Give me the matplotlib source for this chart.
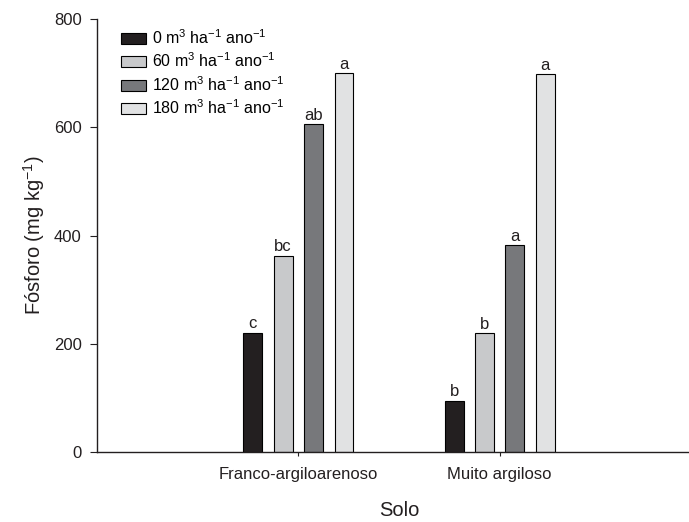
import matplotlib
matplotlib.use("Agg")
import matplotlib.pyplot as plt
from matplotlib.patches import Patch
import numpy as np

plt.rcParams["font.family"] = ["Liberation Sans", "DejaVu Sans"]
plt.rcParams["mathtext.fontset"] = "custom"
plt.rcParams["mathtext.rm"] = "Liberation Sans"
plt.rcParams["mathtext.it"] = "Liberation Sans:italic"
plt.rcParams["mathtext.bf"] = "Liberation Sans:bold"

soils = ["Franco-argiloarenoso", "Muito argiloso"]
doses = ["0 m$^3$ ha$^{-1}$ ano$^{-1}$",
         "60 m$^3$ ha$^{-1}$ ano$^{-1}$",
         "120 m$^3$ ha$^{-1}$ ano$^{-1}$",
         "180 m$^3$ ha$^{-1}$ ano$^{-1}$"]
phosphorus = [
    [220, 94],    # 0
    [362, 219],   # 60
    [606, 382],   # 120
    [700, 698],   # 180
]
letters = [
    ["c", "b"],
    ["bc", "b"],
    ["ab", "a"],
    ["a", "a"],
]
colors = ["#231f20", "#c8c9cb", "#77787b", "#e1e2e3"]
ink = "#231f20"

fig = plt.figure(figsize=(6.89, 5.22), dpi=100)
ax = fig.add_axes([0.1408, 0.1347, 0.8592, 0.8283])

x = np.array([1.0, 2.0])
step = 0.151
width = 0.094
for i, (vals, lab, col) in enumerate(zip(phosphorus, letters, colors)):
    pos = x + (i - 1.5) * step
    ax.bar(pos, vals, width=width, color=col, edgecolor="black", linewidth=0.8)
    for px, v, t in zip(pos, vals, lab):
        ax.text(px, v + 3, t, ha="center", va="bottom", fontsize=12, color=ink)

ax.set_xlim(0, 2.94)
ax.set_ylim(0, 800)
ax.set_yticks([0, 200, 400, 600, 800])
ax.set_xticks(x)
ax.set_xticklabels(soils)
ax.tick_params(axis="y", direction="out", length=5, width=0.8, labelsize=12, pad=6,
               colors=ink)
ax.tick_params(axis="x", direction="out", length=3, width=0.8, labelsize=12, pad=8,
               colors=ink)
for s in ["top", "right"]:
    ax.spines[s].set_visible(False)
for s in ["left", "bottom"]:
    ax.spines[s].set_linewidth(1.0)
    ax.spines[s].set_color(ink)

ax.set_ylabel("Fósforo (mg kg$^{-1}$)", fontsize=14.5, color=ink)
ax.set_xlabel("Solo", fontsize=14.5, color=ink)
ax.yaxis.set_label_coords(-0.085, 0.5)
ax.xaxis.set_label_coords(0.51, -0.115)

handles = [Patch(facecolor=c, edgecolor="black", linewidth=0.8) for c in colors]
ax.legend(handles, doses, loc="upper left", bbox_to_anchor=(0.03, 0.994), frameon=False,
          fontsize=11.5, handlelength=1.56, handleheight=0.67, handletextpad=0.4,
          labelspacing=0.3, borderaxespad=0.0)

fig.savefig("out.png", dpi=100)
